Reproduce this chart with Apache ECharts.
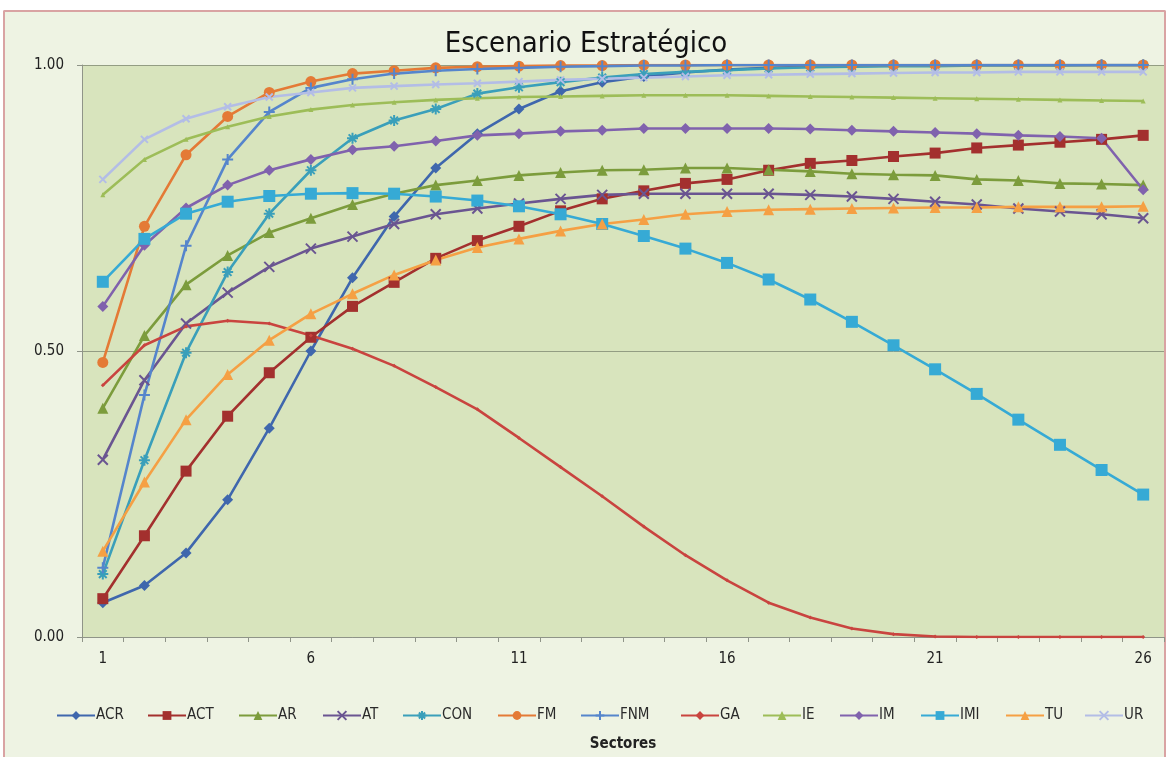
<!DOCTYPE html>
<html>
<head>
<meta charset="utf-8">
<title>Escenario Estratégico</title>
<script src="https://cdn.jsdelivr.net/npm/echarts@6/dist/echarts.min.js"></script>
<style>
  html, body { margin: 0; padding: 0; background: #ffffff; width: 1172px; height: 757px; overflow: hidden; }
  #frame {
    position: absolute; left: 3px; top: 10px; width: 1163px; height: 747px;
    border: 2px solid #d9a3a3; border-bottom: none; border-radius: 2px 2px 0 0; background: #eef3e3;
    box-sizing: border-box;
  }
  #chart { position: absolute; left: 0; top: 0; width: 1172px; height: 757px; }
</style>
</head>
<body>
<div id="frame"></div>
<div id="chart"></div>
<script>
// Sector numbers along the horizontal axis
const sectors = [1, 2, 3, 4, 5, 6, 7, 8, 9, 10, 11, 12, 13, 14, 15, 16, 17, 18, 19, 20, 21, 22, 23, 24, 25, 26];

// Strategic scenario values per series
const ACR = [0.060, 0.090, 0.147, 0.240, 0.365, 0.500, 0.628, 0.735, 0.820, 0.880, 0.923, 0.954, 0.970, 0.980, 0.987, 0.992, 0.995, 0.997, 0.998, 0.999, 0.999, 1.000, 1.000, 1.000, 1.000, 1.000];
const ACT = [0.067, 0.177, 0.290, 0.386, 0.462, 0.524, 0.578, 0.620, 0.662, 0.693, 0.718, 0.745, 0.766, 0.780, 0.793, 0.800, 0.816, 0.828, 0.833, 0.840, 0.846, 0.855, 0.860, 0.865, 0.870, 0.877];
const AR  = [0.400, 0.527, 0.616, 0.667, 0.707, 0.732, 0.756, 0.775, 0.790, 0.798, 0.807, 0.812, 0.816, 0.817, 0.820, 0.820, 0.817, 0.814, 0.810, 0.808, 0.807, 0.800, 0.798, 0.793, 0.792, 0.790];
const AT  = [0.310, 0.449, 0.548, 0.602, 0.647, 0.679, 0.700, 0.722, 0.739, 0.749, 0.758, 0.766, 0.773, 0.775, 0.775, 0.775, 0.775, 0.773, 0.770, 0.766, 0.761, 0.756, 0.749, 0.744, 0.739, 0.732];
const CON = [0.110, 0.309, 0.497, 0.638, 0.740, 0.816, 0.872, 0.903, 0.923, 0.950, 0.961, 0.970, 0.978, 0.984, 0.988, 0.991, 0.994, 0.996, 0.997, 0.998, 0.998, 0.999, 0.999, 0.999, 1.000, 1.000];
const FM  = [0.480, 0.718, 0.843, 0.910, 0.952, 0.971, 0.985, 0.990, 0.995, 0.997, 0.998, 0.999, 0.999, 1.000, 1.000, 1.000, 1.000, 1.000, 1.000, 1.000, 1.000, 1.000, 1.000, 1.000, 1.000, 1.000];
const FNM = [0.121, 0.423, 0.684, 0.835, 0.918, 0.960, 0.975, 0.985, 0.990, 0.993, 0.995, 0.997, 0.998, 0.999, 0.999, 1.000, 1.000, 1.000, 1.000, 1.000, 1.000, 1.000, 1.000, 1.000, 1.000, 1.000];
const GA  = [0.440, 0.510, 0.543, 0.553, 0.548, 0.527, 0.504, 0.474, 0.437, 0.398, 0.348, 0.297, 0.246, 0.193, 0.143, 0.099, 0.060, 0.034, 0.015, 0.005, 0.001, 0.000, 0.000, 0.000, 0.000, 0.000];
const IE  = [0.773, 0.835, 0.870, 0.892, 0.910, 0.922, 0.930, 0.935, 0.939, 0.942, 0.944, 0.945, 0.946, 0.947, 0.947, 0.947, 0.946, 0.945, 0.944, 0.943, 0.942, 0.941, 0.940, 0.939, 0.938, 0.937];
const IM  = [0.578, 0.685, 0.750, 0.790, 0.816, 0.835, 0.852, 0.858, 0.867, 0.877, 0.880, 0.884, 0.886, 0.889, 0.889, 0.889, 0.889, 0.888, 0.886, 0.884, 0.882, 0.880, 0.877, 0.875, 0.872, 0.782];
const IMI = [0.621, 0.696, 0.740, 0.761, 0.771, 0.775, 0.776, 0.775, 0.770, 0.763, 0.753, 0.739, 0.722, 0.701, 0.679, 0.654, 0.625, 0.590, 0.551, 0.510, 0.468, 0.425, 0.380, 0.336, 0.292, 0.249];
const TU  = [0.150, 0.271, 0.380, 0.459, 0.519, 0.565, 0.600, 0.633, 0.659, 0.681, 0.696, 0.710, 0.722, 0.730, 0.739, 0.744, 0.747, 0.748, 0.749, 0.750, 0.751, 0.751, 0.752, 0.752, 0.752, 0.753];
const UR  = [0.800, 0.870, 0.906, 0.927, 0.944, 0.952, 0.960, 0.963, 0.966, 0.968, 0.971, 0.974, 0.976, 0.978, 0.980, 0.982, 0.983, 0.984, 0.985, 0.986, 0.987, 0.987, 0.988, 0.988, 0.988, 0.988];

// Marker shapes drawn as stroked paths
const X_MARK = 'path://M0,0L10,10M10,0L0,10';
const STAR_MARK = 'path://M5,0L5,10M0,5L10,5M1.5,1.5L8.5,8.5M8.5,1.5L1.5,8.5';
const PLUS_MARK = 'path://M5,0L5,10M0,5L10,5';

const FONT = "'Liberation Sans Narrow', 'DejaVu Sans Condensed', 'Arial Narrow', sans-serif";

const seriesDefs = [
  { name: 'ACR', data: ACR, color: '#3f67ad', symbol: 'diamond',  size: 11, stroke: false },
  { name: 'ACT', data: ACT, color: '#a3302e', symbol: 'rect',     size: 11, stroke: false },
  { name: 'AR',  data: AR,  color: '#7c9c3c', symbol: 'triangle', size: 11, stroke: false },
  { name: 'AT',  data: AT,  color: '#6a5591', symbol: X_MARK,     size: 10, stroke: true },
  { name: 'CON', data: CON, color: '#3a9fba', symbol: STAR_MARK,  size: 11, stroke: true },
  { name: 'FM',  data: FM,  color: '#e47a36', symbol: 'circle',   size: 11, stroke: false },
  { name: 'FNM', data: FNM, color: '#5585cc', symbol: PLUS_MARK,  size: 11, stroke: true },
  { name: 'GA',  data: GA,  color: '#c9443f', symbol: 'diamond',  size: 4,  stroke: false },
  { name: 'IE',  data: IE,  color: '#9dbd58', symbol: 'triangle', size: 5,  stroke: false },
  { name: 'IM',  data: IM,  color: '#8062ad', symbol: 'diamond',  size: 11, stroke: false },
  { name: 'IMI', data: IMI, color: '#36aad5', symbol: 'rect',     size: 12, stroke: false },
  { name: 'TU',  data: TU,  color: '#f5a044', symbol: 'triangle', size: 11, stroke: false },
  { name: 'UR',  data: UR,  color: '#b3bde6', symbol: X_MARK,     size: 7,  stroke: true }
];

// Left edge of each legend entry along the bottom row
const legendLeft = [56, 147, 238, 322, 402, 497, 580, 680, 762, 839, 920, 1005, 1084];

const chart = echarts.init(document.getElementById('chart'), null, { renderer: 'canvas' });

const legends = seriesDefs.map((s, i) => ({
  data: [s.name],
  left: legendLeft[i],
  top: 708,
  padding: 0,
  itemWidth: 38,
  itemHeight: 11,
  textStyle: { fontSize: 15, color: '#2a2a2a', fontFamily: FONT, padding: [0, 0, 0, -4] }
}));

const option = {
  animation: false,
  title: {
    text: 'Escenario Estratégico',
    left: 'center',
    top: 25,
    textStyle: { fontSize: 29, fontWeight: 'normal', color: '#111', fontFamily: FONT }
  },
  legend: legends,
  grid: {
    left: 82, right: 8, top: 65, height: 586,
    show: true, backgroundColor: '#d8e4bd', borderWidth: 0
  },
  xAxis: {
    type: 'category',
    data: sectors,
    boundaryGap: true,
    name: 'Sectores',
    nameLocation: 'middle',
    nameGap: 100,
    nameTextStyle: { fontSize: 15, fontWeight: 'bold', color: '#222', fontFamily: FONT },
    axisLine: { lineStyle: { color: '#8f9488', width: 1 } },
    axisTick: { show: true, interval: 0, length: 5, lineStyle: { color: '#8f9488' } },
    axisLabel: { interval: 4, fontSize: 15, color: '#222', margin: 15, fontFamily: FONT },
    splitLine: { show: false }
  },
  yAxis: {
    type: 'value',
    min: 0, max: 1, interval: 0.5,
    axisLine: { show: true, lineStyle: { color: '#8f9488', width: 1 } },
    axisTick: { show: true, length: 5, lineStyle: { color: '#8f9488' } },
    axisLabel: { fontSize: 15, color: '#222', margin: 18, fontFamily: FONT,
                 formatter: v => v.toFixed(2) },
    splitLine: { show: true, lineStyle: { color: '#939d83', width: 1 } }
  },
  series: seriesDefs.map(s => ({
    name: s.name,
    type: 'line',
    data: s.data,
    symbol: s.symbol,
    symbolSize: s.size,
    showSymbol: true,
    lineStyle: { color: s.color, width: 2.6 },
    itemStyle: s.stroke
      ? { color: s.color, borderColor: s.color, borderWidth: 2 }
      : { color: s.color, borderWidth: 0 },
    emphasis: { disabled: true }
  }))
};

chart.setOption(option);
</script>
</body>
</html>
